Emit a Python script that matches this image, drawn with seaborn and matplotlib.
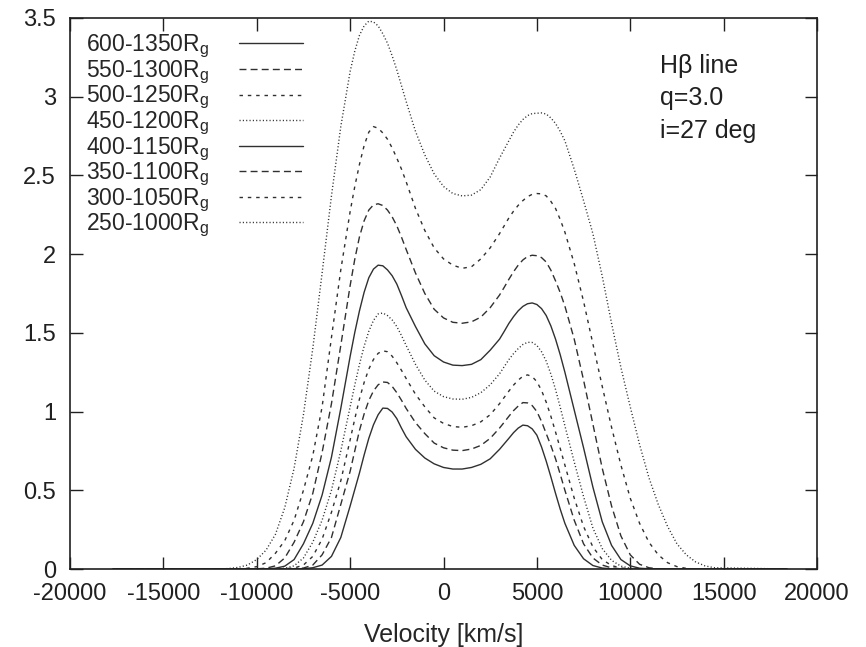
import matplotlib
matplotlib.use('Agg')
import numpy as np
import pandas as pd
import matplotlib.pyplot as plt
import seaborn as sns
from matplotlib.ticker import FormatStrFormatter, MultipleLocator

# Velocity sample points [km/s] (denser around the two peaks)
velocity = [-17700, -12000, -11500, -11000, -10500, -10000, -9500, -9000,
            -8500, -8000, -7500, -7000, -6500, -6000, -5500, -5000,
            -4750, -4500, -4250, -4000, -3750, -3500, -3250, -3000, -2750, -2500,
            -2250, -2000, -1500, -1000, -500, 0, 500, 1000,
            1500, 2000, 2500, 3000, 3250, 3500, 3750, 4000,
            4250, 4500, 4750, 5000, 5250, 5500, 5750, 6000, 6250,
            6500, 7000, 7500, 8000, 8500, 9000, 9500, 10000, 10500, 11000,
            11500, 12000, 12500, 13000, 13500, 14000, 14500, 18400]

# Line profiles, one per emitting region
flux_600_1350 = [0, 0, 0, 0, 0, 0, 0, 0,
                 0, 0, 0.002, 0.008, 0.025, 0.08, 0.20, 0.40,
                 0.505, 0.61, 0.724, 0.83, 0.916, 0.98, 1.022, 1.02, 0.997, 0.955,
                 0.895, 0.84, 0.76, 0.705, 0.668, 0.645, 0.635, 0.635,
                 0.645, 0.665, 0.70, 0.76, 0.795, 0.83, 0.866, 0.895,
                 0.914, 0.91, 0.89, 0.85, 0.775, 0.685, 0.585, 0.48, 0.38,
                 0.29, 0.15, 0.065, 0.022, 0.006, 0.001, 0, 0, 0, 0,
                 0, 0, 0, 0, 0, 0, 0, 0]
flux_550_1300 = [0, 0, 0, 0, 0, 0, 0, 0,
                 0, 0.002, 0.006, 0.025, 0.09, 0.20, 0.41, 0.62,
                 0.751, 0.88, 0.985, 1.07, 1.131, 1.17, 1.188, 1.185, 1.16, 1.12,
                 1.072, 1.02, 0.93, 0.86, 0.80, 0.77, 0.755, 0.752,
                 0.762, 0.785, 0.83, 0.895, 0.932, 0.97, 1.006, 1.035,
                 1.057, 1.055, 1.038, 1.00, 0.937, 0.86, 0.784, 0.70, 0.602,
                 0.50, 0.31, 0.16, 0.07, 0.025, 0.007, 0.001, 0, 0, 0,
                 0, 0, 0, 0, 0, 0, 0, 0]
flux_500_1250 = [0, 0, 0, 0, 0, 0, 0, 0,
                 0.002, 0.006, 0.025, 0.08, 0.19, 0.36, 0.56, 0.82,
                 0.954, 1.08, 1.185, 1.27, 1.331, 1.37, 1.386, 1.38, 1.352, 1.31,
                 1.262, 1.21, 1.11, 1.03, 0.96, 0.925, 0.905, 0.90,
                 0.91, 0.935, 0.98, 1.05, 1.09, 1.13, 1.168, 1.20,
                 1.224, 1.233, 1.222, 1.19, 1.134, 1.06, 0.97, 0.87, 0.766,
                 0.66, 0.45, 0.27, 0.14, 0.06, 0.022, 0.006, 0.001, 0, 0,
                 0, 0, 0, 0, 0, 0, 0, 0]
flux_450_1200 = [0, 0, 0, 0, 0, 0, 0, 0.001,
                 0.005, 0.02, 0.07, 0.17, 0.31, 0.50, 0.75, 1.03,
                 1.169, 1.30, 1.415, 1.51, 1.579, 1.62, 1.626, 1.61, 1.582, 1.54,
                 1.483, 1.42, 1.30, 1.20, 1.13, 1.095, 1.08, 1.078,
                 1.09, 1.12, 1.17, 1.24, 1.285, 1.33, 1.368, 1.40,
                 1.426, 1.44, 1.439, 1.42, 1.38, 1.32, 1.238, 1.14, 1.028,
                 0.91, 0.68, 0.46, 0.26, 0.13, 0.055, 0.018, 0.005, 0.001, 0,
                 0, 0, 0, 0, 0, 0, 0, 0]
flux_400_1150 = [0, 0, 0, 0, 0, 0, 0.001, 0.005,
                 0.018, 0.06, 0.16, 0.29, 0.47, 0.71, 1.02, 1.35,
                 1.503, 1.64, 1.758, 1.85, 1.905, 1.93, 1.926, 1.90, 1.863, 1.81,
                 1.737, 1.66, 1.54, 1.43, 1.355, 1.315, 1.295, 1.292,
                 1.30, 1.33, 1.39, 1.46, 1.509, 1.56, 1.603, 1.64,
                 1.668, 1.685, 1.69, 1.68, 1.654, 1.61, 1.544, 1.46, 1.361,
                 1.25, 1.01, 0.77, 0.52, 0.30, 0.15, 0.06, 0.02, 0.005, 0.001,
                 0, 0, 0, 0, 0, 0, 0, 0]
flux_350_1100 = [0, 0, 0, 0, 0, 0.001, 0.005, 0.02,
                 0.07, 0.17, 0.30, 0.48, 0.74, 1.05, 1.42, 1.80,
                 1.968, 2.11, 2.212, 2.28, 2.313, 2.32, 2.309, 2.28, 2.237, 2.18,
                 2.108, 2.03, 1.88, 1.75, 1.65, 1.595, 1.567, 1.561,
                 1.57, 1.60, 1.66, 1.74, 1.789, 1.84, 1.888, 1.93,
                 1.963, 1.985, 1.993, 1.99, 1.978, 1.95, 1.898, 1.83, 1.756,
                 1.67, 1.46, 1.20, 0.92, 0.64, 0.40, 0.21, 0.09, 0.03, 0.008,
                 0.001, 0, 0, 0, 0, 0, 0, 0]
flux_300_1050 = [0, 0, 0, 0, 0.005, 0.015, 0.04, 0.10,
                 0.18, 0.31, 0.50, 0.72, 1.03, 1.47, 1.90, 2.27,
                 2.43, 2.57, 2.69, 2.775, 2.81, 2.80, 2.77, 2.73, 2.675, 2.61,
                 2.54, 2.46, 2.29, 2.15, 2.04, 1.97, 1.93, 1.91,
                 1.92, 1.97, 2.04, 2.13, 2.18, 2.23, 2.273, 2.31,
                 2.34, 2.365, 2.38, 2.385, 2.383, 2.37, 2.335, 2.29, 2.22,
                 2.14, 1.94, 1.70, 1.43, 1.16, 0.90, 0.66, 0.45, 0.29, 0.17,
                 0.09, 0.04, 0.015, 0.004, 0, 0, 0, 0]
flux_250_1000 = [0, 0, 0.003, 0.01, 0.025, 0.06, 0.12, 0.22,
                 0.39, 0.64, 0.98, 1.40, 1.88, 2.37, 2.81, 3.16,
                 3.29, 3.39, 3.45, 3.48, 3.475, 3.45, 3.40, 3.34, 3.26, 3.17,
                 3.07, 2.97, 2.78, 2.63, 2.51, 2.43, 2.385, 2.37,
                 2.375, 2.41, 2.49, 2.61, 2.665, 2.72, 2.775, 2.82,
                 2.855, 2.88, 2.893, 2.895, 2.897, 2.89, 2.865, 2.83, 2.78,
                 2.72, 2.54, 2.34, 2.13, 1.86, 1.56, 1.28, 1.03, 0.79, 0.58,
                 0.41, 0.27, 0.16, 0.09, 0.045, 0.02, 0.008, 0]

labels = [r'600-1350R$_\mathregular{g}$', r'550-1300R$_\mathregular{g}$',
          r'500-1250R$_\mathregular{g}$', r'450-1200R$_\mathregular{g}$',
          r'400-1150R$_\mathregular{g}$', r'350-1100R$_\mathregular{g}$',
          r'300-1050R$_\mathregular{g}$', r'250-1000R$_\mathregular{g}$']
profiles = [flux_600_1350, flux_550_1300, flux_500_1250, flux_450_1200,
            flux_400_1150, flux_350_1100, flux_300_1050, flux_250_1000]

df = pd.concat([pd.DataFrame({'velocity': velocity, 'flux': f, 'region': lab})
                for lab, f in zip(labels, profiles)], ignore_index=True)

sns.set_style('ticks')
plt.rcParams['font.family'] = ['Liberation Sans', 'DejaVu Sans']
plt.rcParams['mathtext.fontset'] = 'custom'
plt.rcParams['mathtext.rm'] = 'Liberation Sans'
plt.rcParams['axes.unicode_minus'] = False

fig = plt.figure(figsize=(8.66, 6.47), dpi=100)
ax = fig.add_axes([70 / 866, 1 - 569 / 647, 747 / 866, 551 / 647])

line_color = '#303030'
dash_styles = ['', (5, 3), (2.5, 3.5), (0.8, 1.6)] * 2
sns.lineplot(data=df, x='velocity', y='flux', hue='region', style='region',
             hue_order=labels, style_order=labels, palette=[line_color] * 8,
             dashes=dash_styles, linewidth=1.0, sort=False, estimator=None, ax=ax)

ax.set_xlim(-20000, 20000)
ax.set_ylim(0, 3.5)
ax.xaxis.set_major_locator(MultipleLocator(5000))
ax.yaxis.set_major_locator(MultipleLocator(0.5))
ax.yaxis.set_major_formatter(FormatStrFormatter('%g'))
ax.set_xlabel('Velocity [km/s]', fontsize=18, labelpad=13)
ax.set_ylabel('')
ax.tick_params(direction='in', length=9, width=1, top=True, right=True,
               labelsize=17, colors='#202020')
ax.tick_params(axis='y', pad=10)
ax.tick_params(axis='x', pad=10)
for sp in ax.spines.values():
    sp.set_linewidth(1.2)
    sp.set_color('#202020')

old = ax.get_legend()
handles = old.legend_handles
texts = [t.get_text() for t in old.get_texts()]
old.remove()
ax.legend(handles, texts, loc='upper left', bbox_to_anchor=(0.001, 1.0),
          frameon=False, markerfirst=False, fontsize=16.5, handlelength=2.8,
          handletextpad=1.3, labelspacing=-0.08, borderaxespad=0.45,
          borderpad=0.2)

ax.text(0.79, 0.935, 'H\u03b2 line\nq=3.0\ni=27 deg', transform=ax.transAxes,
        fontsize=18, va='top', ha='left', linespacing=1.45, color='#202020')

fig.savefig('out.png', dpi=100)
